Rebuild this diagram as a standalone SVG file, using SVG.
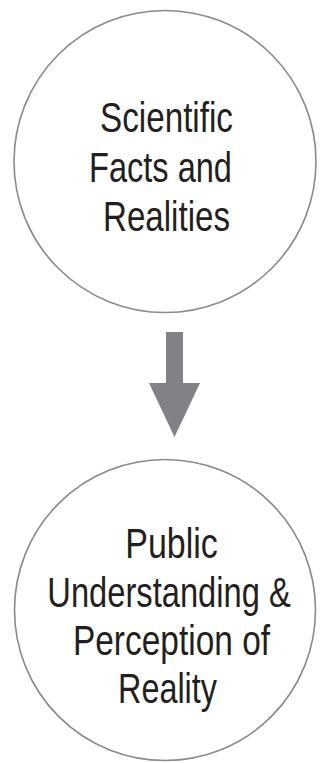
<svg xmlns="http://www.w3.org/2000/svg" width="322" height="763" viewBox="0 0 322 763">
<style>
.node circle{fill:#ffffff;stroke:#8a8a8a;stroke-width:1.6}
.lbl{font-family:"Liberation Sans",Arial,sans-serif;font-size:43px;fill:#231f20;text-anchor:middle}
.arrow{fill:#808285}
</style>
<rect width="322" height="763" fill="#ffffff"/>
<g id="node-facts" class="node">
<circle cx="165" cy="161.5" r="151"/>
<text class="lbl" transform="translate(166.5,132) scale(0.773,1)">Scientific</text>
<text class="lbl" transform="translate(160.5,182) scale(0.757,1)">Facts and</text>
<text class="lbl" transform="translate(166.5,231) scale(0.77,1)">Realities</text>
</g>
<g id="connectors">
<polygon class="arrow" points="166,332 183,332 183,383 200,383 174.5,437 149,383 166,383"/>
</g>
<g id="node-public" class="node">
<circle cx="165" cy="610" r="150.5"/>
<text class="lbl" transform="translate(171.5,558) scale(0.79,1)">Public</text>
<text class="lbl" transform="translate(169,607) scale(0.76,1)">Understanding &amp;</text>
<text class="lbl" transform="translate(171.5,655) scale(0.778,1)">Perception of</text>
<text class="lbl" transform="translate(167.5,703) scale(0.753,1)">Reality</text>
</g>
</svg>
